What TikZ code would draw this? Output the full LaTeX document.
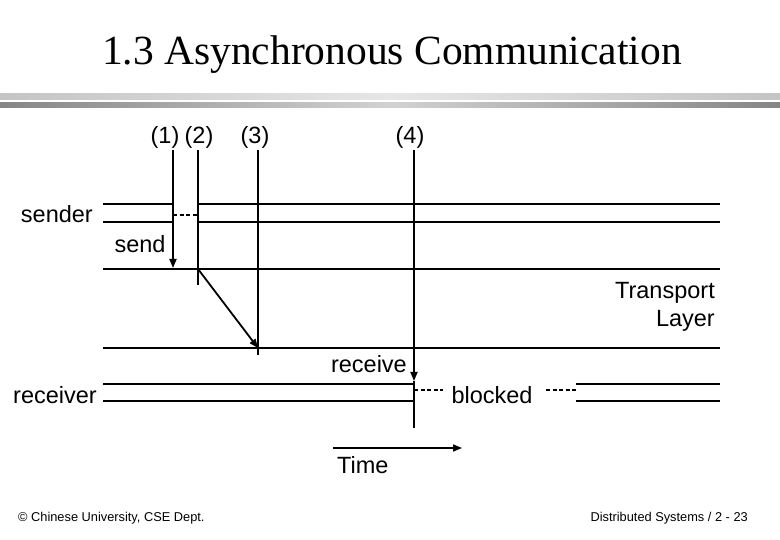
\documentclass[tikz,border=0pt]{standalone}
\usepackage{fontspec}
\setmainfont{Liberation Sans}
\newfontfamily\titlefont{Liberation Serif}
\usetikzlibrary{arrows.meta,positioning}
\definecolor{barlight}{HTML}{C4C4C4}
\definecolor{barpale}{HTML}{E6E6E6}
\definecolor{bardark}{HTML}{858585}
\definecolor{barmid}{HTML}{D2D2D2}

\begin{document}
\begin{tikzpicture}[
  x=1pt,y=-1pt,
  font=\fontsize{23.5}{28}\selectfont,
  >={Triangle[length=9pt,width=7pt]},
  track/.style={line width=1.8pt},
  event/.style={line width=1.8pt},
  waiting/.style={line width=1.4pt,dash pattern=on 4pt off 2.5pt},
  lbl/.style={inner sep=0pt},
  foot/.style={inner sep=0pt,font=\fontsize{12.8}{15}\selectfont}
]
\useasboundingbox (0,0) rectangle (780,540);

% title and bars
\node[lbl,font=\titlefont\fontsize{41.5}{48}\selectfont] (title) at (392,55)
  {1.3 Asynchronous Communication};
\shade[left color=barlight,right color=barlight,middle color=barpale]
  (0,94) rectangle (780,100);
\shade[left color=bardark,right color=bardark,middle color=barmid]
  (0,103) rectangle (780,108);

% event labels
\node[lbl] (lab1) at (165,137) {(1)};
\node[lbl] (lab2) at (199,137) {(2)};
\node[lbl] (lab3) at (255,137) {(3)};
\node[lbl] (lab4) at (410,137) {(4)};

% event lines
\coordinate (e1t) at (173,150);
\coordinate (e1b) at (173,268);
\coordinate (e2t) at (198,150);
\coordinate (e2b) at (198,285);
\coordinate (e3t) at (258,150);
\coordinate (e3b) at (258,355);
\coordinate (e4t) at (414,150);
\coordinate (e4m) at (414,381);
\coordinate (e4b) at (414,428);

% sender
\coordinate (sndA) at (103,204);
\coordinate (sndB) at (103,222);
\draw[track] (sndA) -- (e1t |- sndA);
\draw[track] (e2t |- sndA) -- (720,204);
\draw[track] (sndB) -- (e1t |- sndB);
\draw[track] (e2t |- sndB) -- (720,222);
\draw[waiting] (173,215) -- (198,215);
\node[lbl,anchor=east] (sender) at (93,214) {sender};
\node[lbl] (send) at (140,244) {send};

% transport layer
\coordinate (tpA) at (103,269);
\coordinate (tpB) at (103,348);
\draw[track] (tpA) -- (720,269);
\draw[track] (tpB) -- (720,348);
\node[lbl,anchor=east,align=right] (transport) at (715,307)
  {Transport\\Layer};

% receiver
\coordinate (rcvA) at (103,384);
\coordinate (rcvB) at (103,401);
\draw[track] (rcvA) -- (e4t |- rcvA);
\draw[track] (rcvB) -- (e4t |- rcvB);
\draw[track] (576,384) -- (720,384);
\draw[track] (576,401) -- (720,401);
\draw[waiting] (414,390) -- (443,390);
\draw[waiting] (546,390) -- (576,390);
\node[lbl,anchor=east] (receiver) at (97,395) {receiver};
\node[lbl,anchor=east] (receive) at (407,364) {receive};
\node[lbl] (blocked) at (492,395) {blocked};

\draw[event,->] (e1t) -- (e1b);
\draw[event] (e2t) -- (e2b);
\draw[event] (e3t) -- (e3b);
\draw[event,->] (e4t) -- (e4m);
\draw[event] (e4m) -- (e4b);
\draw[event,->] (e2t |- tpA) -- (e3t |- tpB);

% time axis
\coordinate (timeL) at (333,448);
\coordinate (timeR) at (462,448);
\draw[line width=1.6pt,->] (timeL) -- (timeR);
\node[lbl,below right=8pt and 4pt of timeL,anchor=north west] (time) {Time};

% footer
\node[foot,anchor=west] (copy) at (18,518) {© Chinese University, CSE Dept.};
\node[foot,anchor=east] (page) at (748,518) {Distributed Systems / 2 - 23};
\end{tikzpicture}
\end{document}
